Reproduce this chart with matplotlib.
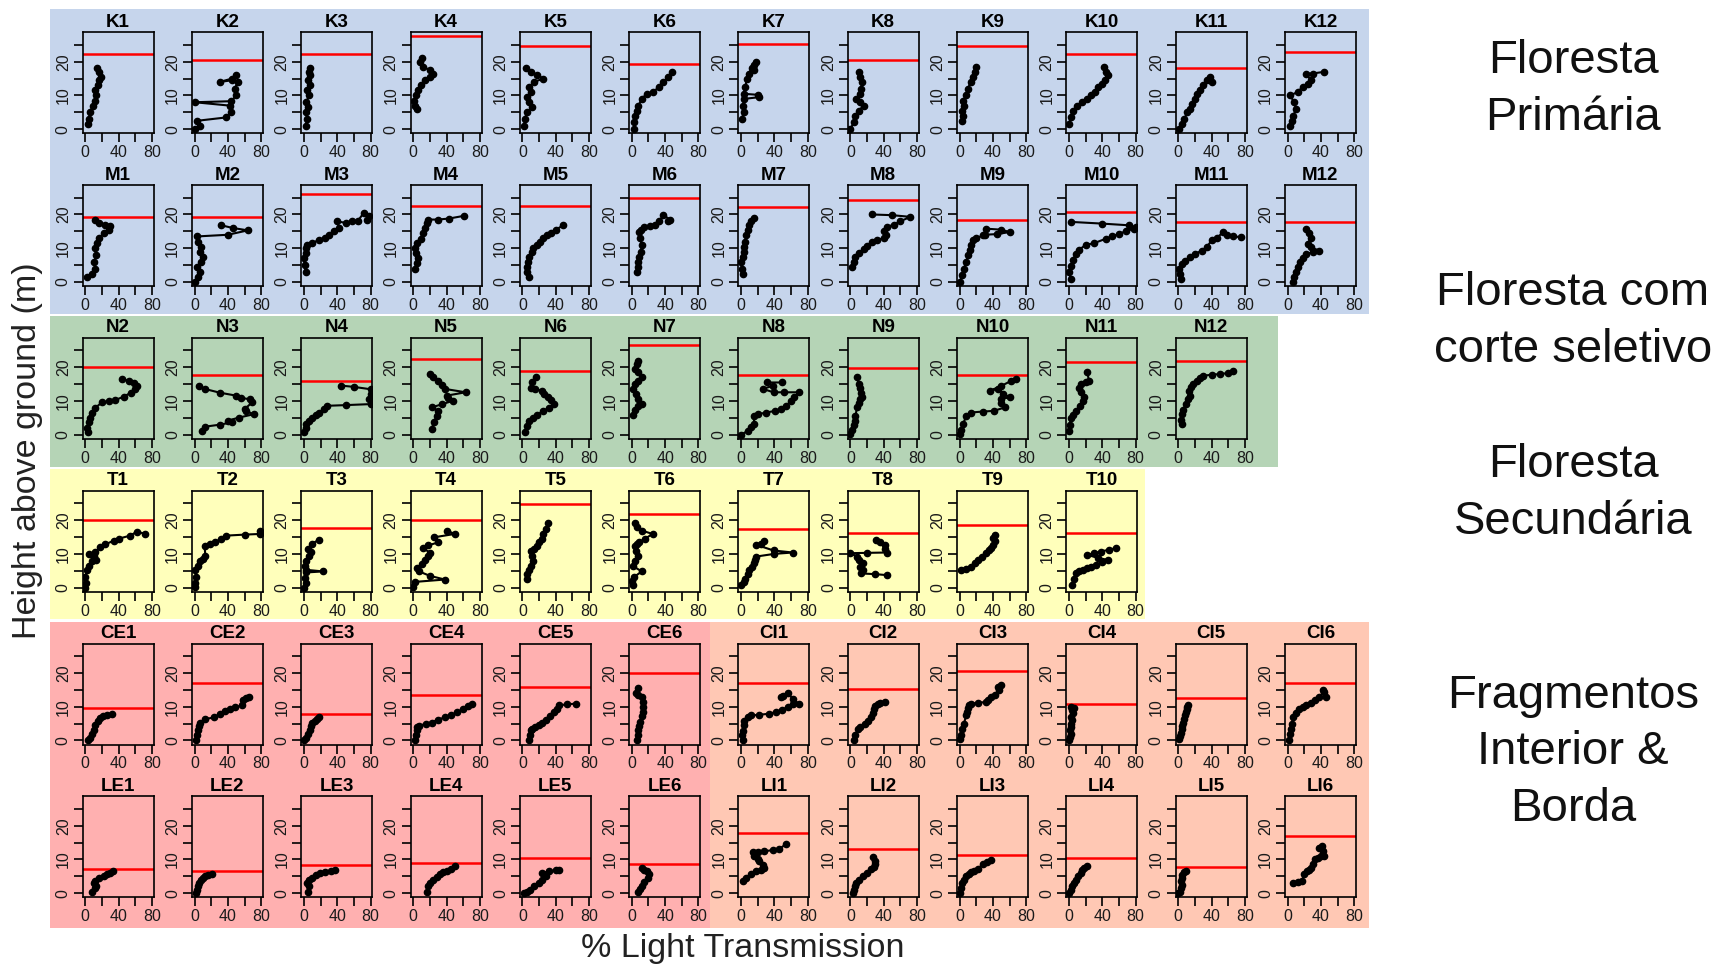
import matplotlib
matplotlib.use("Agg")
import matplotlib.pyplot as plt
from matplotlib.patches import Rectangle

plt.rcParams['font.family'] = ['Liberation Sans', 'DejaVu Sans']

W, H = 1727, 966

# ---------------------------------------------------------------- data
# Canopy height (m) per plot: red horizontal line (None = not measured)
K_canopy = {"K1": 22.3, "K2": 20.5, "K3": 22.3, "K4": 27.7, "K5": 24.7, "K6": 19.3,
            "K7": 25.2, "K8": 20.5, "K9": 24.7, "K10": 22.3, "K11": 18.2, "K12": 23.0}
M_canopy = {"M1": 19.3, "M2": 19.3, "M3": 26.0, "M4": 22.5, "M5": 22.5, "M6": 24.8,
            "M7": 22.3, "M8": 24.3, "M9": 18.3, "M10": 20.8, "M11": 17.8, "M12": 17.8}
N_canopy = {"N2": 20.2, "N3": 17.8, "N4": 16.0, "N5": 22.5, "N6": 18.8, "N7": 26.7,
            "N8": 17.8, "N9": 19.7, "N10": 17.8, "N11": 21.5, "N12": 22.0}
T_canopy = {"T1": 20.0, "T2": None, "T3": 17.6, "T4": 20.0, "T5": 24.9, "T6": 21.8,
            "T7": 17.4, "T8": 16.2, "T9": 18.5, "T10": 16.2}
C_canopy = {"CE1": 9.6, "CE2": 17.0, "CE3": 7.8, "CE4": 13.4, "CE5": 15.7, "CE6": 20.0,
            "CI1": 17.0, "CI2": 15.3, "CI3": 20.5, "CI4": 10.9, "CI5": 12.7, "CI6": 17.0}
L_canopy = {"LE1": 7.3, "LE2": 6.6, "LE3": 8.5, "LE4": 9.1, "LE5": 10.3, "LE6": 8.6,
            "LI1": 17.7, "LI2": 13.1, "LI3": 11.4, "LI4": 10.3, "LI5": 7.9, "LI6": 17.0}

# Vertical light profiles: % light transmission vs height above ground (m)
K_light = {
    "K1": [3, 4, 6, 9, 12, 13, 12, 15, 17, 19, 17, 14],
    "K2": [1, 6, 3, 38, 44, 42, 0, 44, 50, 48, 52, 45, 30, 45, 50],
    "K3": [2, 4, 3, 5, 3, 6, 4, 7, 5, 7, 6, 7],
    "K4": [5, 2, 1, 3, 6, 9, 14, 20, 24, 20, 12, 8, 10],
    "K5": [2, 3, 5, 12, 8, 6, 10, 8, 14, 25, 18, 10, 4],
    "K6": [3, 3, 4, 6, 8, 12, 18, 25, 33, 38, 44, 48],
    "K7": [1, 3, 2, 4, 22, 20, 3, 5, 7, 9, 13, 16, 18, 15],
    "K8": [0, 4, 6, 10, 16, 12, 7, 11, 13, 14, 12, 10],
    "K9": [3, 4, 3, 5, 4, 8, 10, 13, 16, 18, 19],
    "K10": [0, 2, 5, 10, 16, 22, 27, 31, 35, 40, 43, 47, 44, 42],
    "K11": [1, 4, 7, 11, 14, 17, 20, 23, 26, 30, 34, 38, 40],
    "K12": [3, 5, 7, 10, 8, 3, 12, 18, 24, 28, 22, 30, 44],
}
K_height = {
    "K1": [1.5, 3, 5, 7, 8.5, 10, 11.5, 13, 14.5, 15.5, 17, 18],
    "K2": [0, 1, 2.5, 3.5, 5, 7, 8, 8.3, 10, 12, 14, 14.5, 14, 15, 16],
    "K3": [1, 3, 5, 6.5, 8, 10, 11.5, 13, 14.5, 16, 17, 18],
    "K4": [6, 7, 8.5, 10, 11.5, 13, 14.5, 15.5, 16.5, 17.5, 18.5, 20, 21],
    "K5": [1, 3, 5, 6.5, 8, 9.5, 11, 12.5, 14, 15, 16, 17, 18],
    "K6": [0, 2, 4, 5.5, 7, 9, 10.5, 11, 12.5, 14, 15.5, 17],
    "K7": [3, 5, 7, 9, 9.5, 10.2, 10.5, 12.5, 15, 16.5, 18, 19, 20, 17.5],
    "K8": [0, 2, 4, 5.5, 7, 8, 9, 10.5, 12, 14, 15.5, 17],
    "K9": [2.5, 4, 5.5, 7, 8.5, 10, 12, 14, 15.5, 17, 18.5],
    "K10": [1.5, 3.5, 5.5, 7, 8, 9, 10, 11, 12.5, 13.5, 14.5, 16, 17, 18.5],
    "K11": [0, 1.5, 3, 5, 6, 7.5, 9, 10.5, 11.5, 13, 14.5, 15.5, 14],
    "K12": [1, 2.5, 4, 6, 8, 10, 11, 12.5, 13.5, 14.5, 16.5, 16.5, 17],
}

M_light = {
    "M1": [2, 8, 12, 11, 13, 12, 14, 17, 22, 28, 30, 24, 16, 12],
    "M2": [1, 4, 6, 3, 8, 10, 6, 8, 4, 3, 40, 64, 46, 32],
    "M3": [2, 1, 0, 3, 2, 4, 10, 18, 25, 30, 36, 42, 40, 50, 58, 65, 72, 78, 76],
    "M4": [2, 4, 6, 3, 2, 5, 9, 12, 14, 16, 18, 30, 43, 61],
    "M5": [8, 6, 5, 7, 8, 11, 13, 17, 21, 25, 29, 34, 40, 49],
    "M6": [6, 7, 8, 9, 11, 12, 10, 9, 11, 15, 22, 28, 33, 38, 46, 44],
    "M7": [2, 1, 0, 2, 3, 4, 5, 6, 8, 9, 12, 16],
    "M8": [2, 4, 6, 10, 16, 20, 26, 32, 40, 43, 40, 44, 52, 60, 72, 50, 26],
    "M9": [0, 3, 5, 8, 10, 12, 14, 16, 20, 28, 32, 50, 60, 45, 30],
    "M10": [2, 0, 3, 5, 8, 12, 20, 30, 44, 52, 60, 68, 78, 80, 72, 40, 3],
    "M11": [3, 2, 1, 4, 8, 14, 20, 28, 34, 40, 46, 54, 58, 66, 75],
    "M12": [7, 8, 10, 12, 15, 18, 22, 30, 38, 28, 24, 28, 26, 22],
}
M_height = {
    "M1": [1.5, 2.5, 4, 6, 8, 10, 11.5, 13, 14.5, 15.5, 16.5, 17, 17.5, 18.5],
    "M2": [0, 1.5, 3, 4.5, 6, 7.5, 9, 10.5, 12, 13.5, 14, 15.3, 16, 16.8],
    "M3": [3, 5, 7, 8.5, 10, 11, 11.5, 12.5, 13, 13.8, 15, 16, 18, 17.5, 18, 18.2, 20.5, 19.5, 18.5],
    "M4": [4, 5.5, 7, 8.5, 10, 11.5, 12.8, 14.5, 16, 17.5, 18.5, 18.5, 18.8, 19.6],
    "M5": [1.5, 3, 4.5, 6, 7.5, 9, 10, 11, 12, 13, 13.8, 14.5, 15.5, 16.8],
    "M6": [3, 4.5, 6, 7.5, 9, 11, 13, 14.8, 15.5, 16.3, 16.5, 17, 18, 19.8, 18.5, 18],
    "M7": [2.5, 4, 6, 7.5, 9, 10.5, 12, 13.8, 15.5, 17, 18, 19],
    "M8": [4.5, 6, 7.5, 8.5, 9.8, 10.8, 11.8, 12.5, 13, 13.8, 15, 16.3, 17, 18, 19.3, 19.8, 20],
    "M9": [0, 2, 4, 6, 8, 9.5, 11, 12.3, 13, 13.8, 15.8, 15.5, 14.8, 14.2, 14],
    "M10": [1, 3, 4.8, 6.5, 8.3, 9.5, 11, 11.5, 12.8, 13.5, 14.3, 15, 15.8, 16.3, 16.8, 17.3, 17.8],
    "M11": [0.8, 2.5, 4, 5.3, 6.3, 7.3, 8.3, 9.3, 10.3, 12.3, 13, 14.8, 14, 13.5, 13.3],
    "M12": [0, 1.5, 3, 4.5, 6, 7, 8.3, 8.8, 9.3, 10.3, 11.3, 13, 14.5, 15.8],
}

N_light = {
    "N2": [3, 2, 4, 6, 8, 12, 20, 28, 36, 46, 55, 60, 62, 58, 52, 44],
    "N3": [9, 12, 30, 45, 40, 53, 71, 62, 60, 69, 66, 56, 50, 30, 12, 5],
    "N4": [0, 2, 3, 6, 10, 14, 18, 24, 28, 50, 80, 78, 80, 80, 60, 44],
    "N5": [22, 25, 28, 30, 22, 35, 48, 42, 40, 63, 38, 34, 30, 24, 20],
    "N6": [3, 5, 8, 13, 18, 25, 32, 38, 34, 31, 26, 23, 15, 10, 12, 16],
    "N7": [2, 4, 7, 12, 8, 5, 2, 4, 8, 12, 8, 4, 6, 7],
    "N8": [0, 8, 12, 16, 15, 20, 30, 41, 48, 54, 60, 64, 70, 52, 39, 26, 38, 31, 49],
    "N9": [0, 2, 4, 5, 6, 8, 10, 12, 14, 13, 11, 10, 8],
    "N10": [0, 2, 4, 8, 13, 28, 41, 54, 50, 49, 60, 52, 46, 36, 50, 62, 67],
    "N11": [0, 1, 2, 5, 9, 13, 17, 18, 14, 12, 15, 20, 24, 22],
    "N12": [4, 3, 4, 6, 9, 12, 14, 13, 15, 18, 22, 26, 30, 40, 50, 60, 66],
}
N_height = {
    "N2": [0.7, 2, 3.7, 5, 6.6, 8, 9.6, 10, 10.3, 11.3, 12.5, 13.5, 14.5, 15.3, 16, 16.5],
    "N3": [1.2, 2.4, 3, 3.7, 4.2, 5.1, 6.1, 7, 7.6, 9.6, 10.5, 11, 11.6, 12.5, 13.6, 14.6],
    "N4": [0.7, 2, 3.2, 4.2, 5.1, 5.8, 6.6, 7.6, 8.6, 8.8, 9.1, 10.6, 12, 13.5, 14.2, 14.6],
    "N5": [1.7, 3.7, 5.5, 7.1, 8.1, 9.1, 10.1, 11, 11.6, 12.6, 13.6, 14.8, 16, 17, 18],
    "N6": [0.7, 2.7, 4, 5.1, 6, 7.1, 8, 9.1, 10.2, 11.1, 12.2, 13.1, 13.5, 14, 15.5, 17],
    "N7": [6, 7.3, 8.6, 9, 10.6, 12, 13.6, 15, 16, 17, 18.5, 19.5, 21, 22],
    "N8": [0, 1.2, 2.2, 3.2, 5.6, 6.1, 6.6, 7.1, 7.6, 8.6, 10, 11.1, 12.6, 12.6, 12.6, 13.6, 14.5, 15.5, 15.5],
    "N9": [0.2, 1.5, 3, 4.2, 5.5, 8.1, 9.5, 10.5, 11.1, 12.5, 14, 15, 17],
    "N10": [0.2, 1.5, 3.2, 5.6, 6.6, 6.9, 7.1, 8.1, 9.5, 10.6, 11.1, 12.2, 13.6, 13, 14.5, 16, 16.5],
    "N11": [1.2, 3, 5.1, 6, 7.1, 8.5, 10.1, 11.2, 12.6, 14, 15, 15.5, 16, 18.5],
    "N12": [3.2, 4.5, 6.1, 7.5, 9.1, 10.5, 11.6, 13, 14.1, 15.2, 16, 16.8, 17.5, 17.8, 18, 18.3, 19],
}

T_light = {
    "T1": [0, 1, 0, 2, 5, 8, 13, 10, 5, 12, 18, 24, 34, 40, 54, 62, 72],
    "T2": [0, 1, 2, 1, 4, 7, 10, 13, 12, 18, 25, 32, 38, 60, 79, 79],
    "T3": [0, 2, 1, 3, 23, 2, 1, 3, 6, 8, 5, 10, 18],
    "T4": [0, 2, 38, 20, 7, 5, 10, 14, 18, 20, 12, 18, 30, 25, 50, 40],
    "T5": [5, 6, 8, 10, 13, 12, 10, 14, 18, 20, 23, 25, 28, 31],
    "T6": [2, 0, 3, 12, 2, 4, 7, 5, 4, 6, 9, 16, 25, 12, 6, 4],
    "T7": [0, 3, 5, 8, 10, 13, 15, 17, 18, 40, 62, 39, 18, 24, 28],
    "T8": [44, 30, 13, 15, 12, 15, 10, 8, 0, 20, 44, 42, 41, 36, 31],
    "T9": [1, 7, 14, 18, 22, 27, 32, 35, 37, 40, 42, 40, 42],
    "T10": [4, 6, 8, 12, 17, 22, 27, 32, 40, 47, 35, 22, 30, 38, 48, 56],
}
T_height = {
    "T1": [0, 1.5, 3.2, 5.3, 6.5, 7.8, 8.3, 9.3, 10, 10.5, 11.9, 12.8, 13.9, 14.5, 15.4, 16.6, 15.9],
    "T2": [0.2, 1.5, 3.2, 5.3, 6.5, 7.8, 8.5, 9.3, 12.3, 13, 13.4, 14.5, 15.4, 15.7, 15.9, 16.9],
    "T3": [0, 1.5, 3, 4.5, 4.8, 5.3, 6.5, 8, 9.5, 10.5, 11.5, 13, 14.2],
    "T4": [0.2, 1.7, 2.4, 3.5, 4.8, 5.8, 7, 8.3, 9.3, 10.3, 11.8, 12.5, 13.4, 14.9, 15.9, 16.9],
    "T5": [2.7, 4, 5.3, 6.5, 7.8, 9.3, 10.8, 11.5, 12.3, 13.5, 14.4, 16, 17.4, 19],
    "T6": [0.7, 2, 3.2, 4.8, 6.3, 7.8, 9.3, 10.8, 12.3, 12.8, 13.4, 14.5, 15.9, 16.9, 18, 19],
    "T7": [0.7, 1.7, 2.7, 4, 5.2, 6.2, 7.2, 8.2, 9.2, 10, 10.4, 11, 12.7, 13, 13.7],
    "T8": [3.7, 4, 4.2, 5.2, 6.2, 7.2, 8.2, 9.2, 10.2, 10.3, 10.4, 11.5, 12.7, 13.5, 14],
    "T9": [5.2, 5.5, 6.2, 7.2, 8.2, 9.2, 10.2, 11, 11.7, 12.7, 13.7, 14.7, 15.7],
    "T10": [0.7, 2.5, 4.2, 4.8, 5.2, 5.7, 6.2, 6.8, 7.5, 8.2, 8.8, 9.7, 10.2, 10.7, 11.2, 11.7],
}

C_light = {
    "CE1": [3, 6, 8, 10, 12, 15, 18, 21, 26, 32],
    "CE2": [2, 3, 4, 5, 7, 12, 23, 30, 36, 42, 49, 57, 58, 62, 65],
    "CE3": [0, 3, 5, 7, 8, 10, 13, 16, 18],
    "CE4": [2, 3, 4, 5, 7, 15, 22, 30, 38, 45, 53, 60, 66, 71],
    "CE5": [8, 9, 10, 12, 15, 20, 23, 28, 33, 38, 42, 44, 54, 64],
    "CE6": [6, 7, 8, 9, 10, 12, 13, 14, 14, 12, 8, 5, 8],
    "CI1": [2, 1, 2, 3, 4, 8, 12, 22, 33, 42, 49, 56, 62, 69, 62, 56, 50, 48],
    "CI2": [4, 6, 9, 12, 17, 21, 25, 27, 28, 30, 33, 36, 41],
    "CI3": [0, 1, 3, 5, 8, 9, 10, 11, 13, 22, 31, 34, 37, 42, 47, 46, 50],
    "CI4": [0, 1, 2, 1, 3, 2, 4, 3, 5, 4, 6, 3],
    "CI5": [1, 2, 3, 4, 5, 6, 7, 8, 9, 10, 11, 12],
    "CI6": [2, 3, 4, 5, 7, 10, 14, 18, 22, 28, 33, 38, 44, 42, 46],
}
C_height = {
    "CE1": [0, 0.7, 2, 3.2, 4.5, 5.8, 6.5, 7.3, 7.6, 7.8],
    "CE2": [0, 1.5, 3.2, 4.2, 5.3, 6.3, 6.8, 7.8, 8.8, 9.3, 9.8, 10.4, 11.9, 12.5, 12.9],
    "CE3": [0, 0.7, 2, 3.2, 4.2, 5.3, 5.8, 6.3, 6.8],
    "CE4": [0, 1.5, 3.2, 4, 4.2, 5, 5.3, 6.2, 6.8, 7.5, 8.3, 9.3, 10.3, 10.9],
    "CE5": [0, 1.5, 3.2, 3.5, 4, 4.7, 5.3, 6.2, 7.3, 8.3, 9.4, 10.4, 10.7, 10.9],
    "CE6": [0, 1.5, 3, 4.2, 5.5, 7.3, 8.5, 10, 11.4, 12.9, 13.5, 14, 15.4],
    "CI1": [0, 1.5, 2.8, 4.5, 5.9, 6.8, 7.4, 7.6, 7.9, 8.4, 8.9, 10, 10.9, 10.9, 12.4, 13.9, 13.2, 12.9],
    "CI2": [0, 1.5, 3.3, 4, 4.8, 5.8, 6.9, 8, 9.4, 10.2, 10.9, 11.2, 11.4],
    "CI3": [0.3, 1.5, 3.3, 5, 7.4, 8.5, 9.5, 10.4, 10.9, 11.1, 11.4, 12, 12.9, 13.5, 14.9, 15.8, 16.5],
    "CI4": [0, 1, 2, 3, 4, 5, 6, 7, 8, 9, 9.5, 10],
    "CI5": [0.3, 1.2, 2.2, 3.3, 4.3, 5.3, 6.4, 7.4, 8.4, 9.4, 10, 10.4],
    "CI6": [0.1, 1.8, 3.3, 5, 6.9, 8.2, 9.4, 10, 10.4, 11, 11.9, 13, 14.4, 15, 12.9],
}

L_light = {
    "LE1": [8, 12, 13, 11, 12, 17, 22, 26, 30, 33],
    "LE2": [2, 3, 4, 5, 8, 10, 12, 16, 21],
    "LE3": [5, 6, 4, 6, 10, 14, 19, 25, 32, 37],
    "LE4": [16, 18, 20, 24, 28, 32, 36, 40, 45, 50],
    "LE5": [2, 6, 9, 14, 20, 24, 28, 26, 24, 32, 40, 44],
    "LE6": [7, 10, 12, 15, 19, 21, 18, 15, 12],
    "LI1": [2, 6, 12, 18, 24, 28, 26, 22, 20, 16, 14, 20, 28, 38, 46, 54],
    "LI2": [3, 4, 5, 7, 10, 15, 20, 25, 28, 30, 30, 27],
    "LI3": [0, 1, 3, 5, 8, 11, 14, 17, 22, 28, 33, 37],
    "LI4": [0, 2, 4, 6, 9, 11, 14, 16, 18, 22],
    "LI5": [0, 2, 3, 4, 3, 4, 5, 7, 9],
    "LI6": [7, 12, 17, 20, 23, 26, 28, 30, 33, 36, 40, 44, 42, 38, 41],
}
L_height = {
    "LE1": [0.5, 1.5, 2, 3, 3.5, 4.5, 5, 5.6, 6, 6.6],
    "LE2": [0, 1, 2, 3, 4, 4.5, 5, 5.5, 5.8],
    "LE3": [0.5, 2, 3, 4, 4.5, 5.3, 6, 6.3, 6.5, 6.8],
    "LE4": [0.5, 2, 3, 4, 4.8, 5.6, 6.2, 6.6, 7.3, 8],
    "LE5": [0, 0.5, 1, 2, 3, 4, 5, 5.5, 6, 6.5, 6.8, 7],
    "LE6": [0.5, 1.2, 2, 3.2, 4.5, 5.6, 6.5, 7, 7.6],
    "LI1": [3.5, 4.5, 5.6, 6.5, 7, 7.6, 8.5, 9.5, 10.1, 11, 12.1, 12.3, 12.4, 12.8, 13.1, 14.6],
    "LI2": [0, 1, 2, 3, 4, 5.1, 6, 7.1, 7.8, 8.6, 9.6, 10.6],
    "LI3": [0, 1.5, 3, 4, 5, 5.6, 6.2, 6.6, 7.3, 8.6, 9.2, 9.8],
    "LI4": [0, 1, 2, 3, 4, 5, 6.1, 7, 7.6, 8.1],
    "LI5": [0, 0.5, 1.5, 2.5, 3.5, 4.5, 5.5, 6.4, 6.6],
    "LI6": [3, 3.2, 3.5, 5.6, 6.5, 7, 7.6, 8.8, 10.1, 10.5, 11, 11.1, 12.5, 13.5, 14.1],
}

row_groups = [
    (K_light, K_height, K_canopy),
    (M_light, M_height, M_canopy),
    (N_light, N_height, N_canopy),
    (T_light, T_height, T_canopy),
    (C_light, C_height, C_canopy),
    (L_light, L_height, L_canopy),
]

forest_labels = ["Floresta\nPrimária", "Floresta com\ncorte seletivo",
                 "Floresta\nSecundária", "Fragmentos\nInterior &\nBorda"]

# ---------------------------------------------------------------- layout (pixels)
BOX_LEFT0, COL_STEP, BOX_W = 82.6, 109.3, 71.0
BOX_TOP0, ROW_STEP, BOX_H = 32.3, 152.8, 101.0

fig = plt.figure(figsize=(W / 100, H / 100), dpi=100)
fig.patch.set_facecolor('white')


def band(x0, y0, x1, y1, color):
    fig.add_artist(Rectangle((x0 / W, 1 - y1 / H), (x1 - x0) / W, (y1 - y0) / H,
                             transform=fig.transFigure, facecolor=color,
                             edgecolor='none', zorder=0))


band(50, 9, 1369, 314, '#c6d5ec')     # primary forest
band(50, 316, 1278, 467, '#b5d4b6')   # selectively logged
band(50, 469, 1145, 619, '#ffffbb')   # secondary forest
band(50, 622, 710, 928, '#ffb0b0')    # fragments, edge-exposed
band(710, 622, 1369, 928, '#ffc8b4')  # fragments, interior


def panel(row, col, name, light, height, canopy):
    left = BOX_LEFT0 + COL_STEP * col
    top = BOX_TOP0 + ROW_STEP * row
    ax = fig.add_axes([left / W, 1 - (top + BOX_H) / H, BOX_W / W, BOX_H / H])
    ax.set_facecolor('none')
    if canopy is not None:
        ax.axhline(canopy, color='#ff0000', lw=1.8, zorder=2)
    ax.plot(light, height, color='black', lw=1.5, marker='o', ms=4.5,
            mfc='black', mec='black', zorder=3)
    ax.set_xlim(-3.2, 82)
    ax.set_ylim(-1.2, 28.7)
    ax.set_xticks([0, 20, 40, 60, 80])
    ax.set_xticklabels(['0', '', '40', '', '80'])
    ax.set_yticks([0, 5, 10, 15, 20, 25])
    ax.set_yticklabels(['0', '', '10', '', '20', ''], rotation=90, va='center')
    ax.tick_params(direction='out', length=6.5, width=1.2, labelsize=11.5,
                   pad=2, color='black', labelcolor='#1a1a1a')
    for s in ax.spines.values():
        s.set_linewidth(1.2)
        s.set_color('black')
    ax.set_title(name, fontsize=13.5, fontweight='bold', pad=4)


for r, (light_d, height_d, canopy_d) in enumerate(row_groups):
    for c, name in enumerate(light_d):
        panel(r, c, name, light_d[name], height_d[name], canopy_d[name])

# group labels on the right
label_y = [89.5, 321.5, 493.5, 752.5]
for txt, yc in zip(forest_labels, label_y):
    fig.text(1573 / W, 1 - yc / H, txt, ha='center', va='center',
             multialignment='center', fontsize=34, color='#111111', linespacing=1.37)

fig.text(28 / W, 1 - 451 / H, "Height above ground (m)", rotation=90,
         ha='center', va='center', fontsize=24.5, color='#222222')
fig.text(743 / W, 1 - 949 / H, "% Light Transmission", ha='center', va='center',
         fontsize=24.5, color='#222222')

fig.savefig("out.png", dpi=100)
